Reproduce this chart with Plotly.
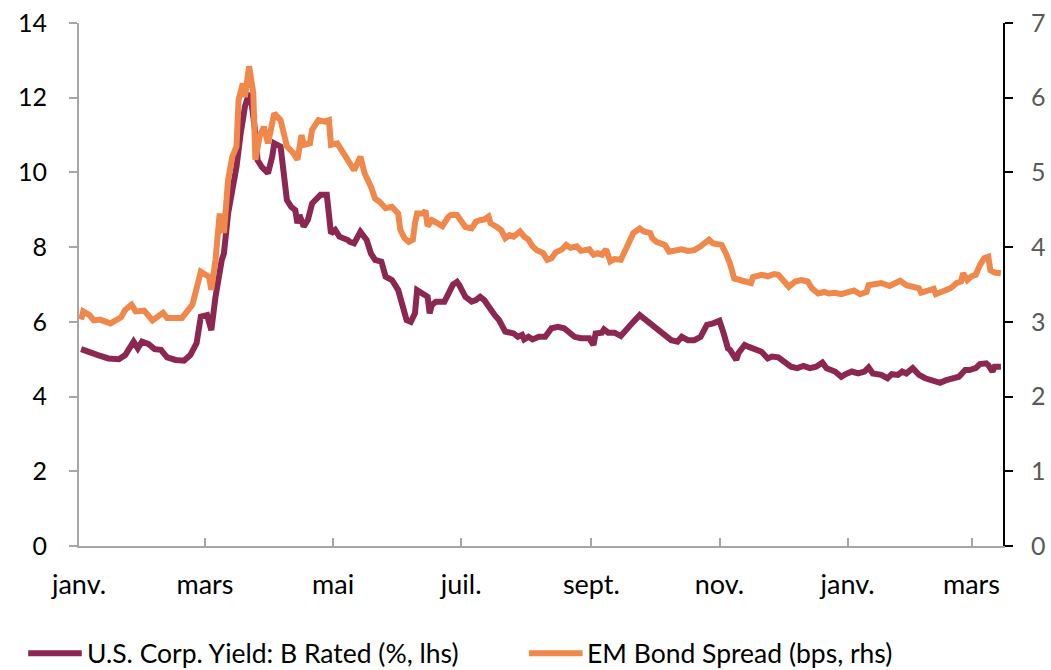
import plotly.graph_objects as go

# U.S. corporate B-rated yield (%, left axis)
us_dates = [
    "2020-01-02", "2020-01-05", "2020-01-10", "2020-01-15", "2020-01-20", "2020-01-23",
    "2020-01-27", "2020-01-29", "2020-01-31", "2020-02-03", "2020-02-06", "2020-02-09",
    "2020-02-12", "2020-02-16", "2020-02-20", "2020-02-23", "2020-02-26", "2020-02-28",
    "2020-03-02", "2020-03-04", "2020-03-06", "2020-03-09", "2020-03-10", "2020-03-12",
    "2020-03-14", "2020-03-16", "2020-03-18", "2020-03-20", "2020-03-22", "2020-03-23",
    "2020-03-25", "2020-03-26", "2020-03-28", "2020-03-31", "2020-04-02", "2020-04-03",
    "2020-04-06", "2020-04-07", "2020-04-09", "2020-04-11", "2020-04-13", "2020-04-14",
    "2020-04-15", "2020-04-17", "2020-04-19", "2020-04-21", "2020-04-23", "2020-04-25",
    "2020-04-28", "2020-04-30", "2020-05-02", "2020-05-04", "2020-05-08", "2020-05-09",
    "2020-05-11", "2020-05-14", "2020-05-17", "2020-05-19", "2020-05-21", "2020-05-24",
    "2020-05-26", "2020-05-29", "2020-06-01", "2020-06-03", "2020-06-05", "2020-06-07",
    "2020-06-09", "2020-06-10", "2020-06-13", "2020-06-15", "2020-06-16", "2020-06-17",
    "2020-06-19", "2020-06-23", "2020-06-25", "2020-06-27", "2020-06-29", "2020-06-30",
    "2020-07-03", "2020-07-06", "2020-07-08", "2020-07-10", "2020-07-12", "2020-07-15",
    "2020-07-17", "2020-07-19", "2020-07-21", "2020-07-22", "2020-07-26", "2020-07-28",
    "2020-07-30", "2020-07-31", "2020-08-02", "2020-08-04", "2020-08-07", "2020-08-10",
    "2020-08-13", "2020-08-16", "2020-08-19", "2020-08-20", "2020-08-24", "2020-08-27",
    "2020-08-31", "2020-09-02", "2020-09-03", "2020-09-06", "2020-09-07", "2020-09-09",
    "2020-09-12", "2020-09-15", "2020-09-18", "2020-09-21", "2020-09-24", "2020-09-26",
    "2020-09-29", "2020-10-02", "2020-10-06", "2020-10-09", "2020-10-12", "2020-10-14",
    "2020-10-17", "2020-10-20", "2020-10-23", "2020-10-26", "2020-10-29", "2020-11-01",
    "2020-11-03", "2020-11-05", "2020-11-06", "2020-11-09", "2020-11-10", "2020-11-13",
    "2020-11-15", "2020-11-18", "2020-11-21", "2020-11-24", "2020-11-26", "2020-11-29",
    "2020-12-02", "2020-12-05", "2020-12-08", "2020-12-11", "2020-12-14", "2020-12-17",
    "2020-12-20", "2020-12-22", "2020-12-26", "2020-12-29", "2020-12-31", "2021-01-03",
    "2021-01-06", "2021-01-09", "2021-01-11", "2021-01-13", "2021-01-17", "2021-01-20",
    "2021-01-22", "2021-01-25", "2021-01-27", "2021-01-29", "2021-02-01", "2021-02-04",
    "2021-02-07", "2021-02-10", "2021-02-14", "2021-02-17", "2021-02-21", "2021-02-23",
    "2021-02-26", "2021-02-28", "2021-03-03", "2021-03-05", "2021-03-08", "2021-03-09",
    "2021-03-11", "2021-03-12", "2021-03-15",
]
us_yield = [
    5.27, 5.20, 5.11, 5.02, 5.00, 5.11,
    5.47, 5.29, 5.47, 5.41, 5.27, 5.25,
    5.05, 4.98, 4.96, 5.11, 5.43, 6.14,
    6.18, 5.78, 6.67, 7.66, 7.83, 8.90,
    9.44, 10.15, 11.05, 11.76, 12.12, 11.94,
    11.05, 10.33, 10.15, 9.98, 10.42, 10.78,
    10.69, 10.24, 9.26, 9.08, 8.99, 8.64,
    8.86, 8.55, 8.73, 9.17, 9.26, 9.40,
    9.40, 8.37, 8.46, 8.28, 8.19, 8.14,
    8.10, 8.41, 8.19, 7.83, 7.66, 7.61,
    7.21, 7.12, 6.85, 6.41, 6.05, 6.00,
    6.23, 6.85, 6.72, 6.67, 6.23, 6.45,
    6.54, 6.54, 6.76, 6.99, 7.07, 6.99,
    6.67, 6.54, 6.58, 6.67, 6.58, 6.32,
    6.18, 6.05, 5.83, 5.74, 5.69, 5.60,
    5.65, 5.53, 5.60, 5.53, 5.60, 5.60,
    5.83, 5.87, 5.83, 5.78, 5.60, 5.56,
    5.56, 5.38, 5.69, 5.71, 5.80, 5.71,
    5.71, 5.62, 5.83, 6.00, 6.18, 6.09,
    5.96, 5.83, 5.65, 5.51, 5.47, 5.60,
    5.51, 5.51, 5.60, 5.92, 5.96, 6.03,
    5.69, 5.29, 5.25, 4.98, 5.16, 5.38,
    5.33, 5.25, 5.20, 5.02, 5.07, 5.05,
    4.93, 4.80, 4.76, 4.82, 4.76, 4.80,
    4.91, 4.76, 4.67, 4.53, 4.60, 4.67,
    4.62, 4.67, 4.78, 4.62, 4.58, 4.49,
    4.60, 4.58, 4.67, 4.62, 4.76, 4.58,
    4.49, 4.42, 4.37, 4.44, 4.49, 4.53,
    4.71, 4.71, 4.76, 4.87, 4.89, 4.84,
    4.67, 4.80, 4.80,
]

# EM bond spread (hundreds of bps, right axis)
em_dates = [
    "2020-01-02", "2020-01-03", "2020-01-06", "2020-01-08", "2020-01-11", "2020-01-16",
    "2020-01-21", "2020-01-23", "2020-01-26", "2020-01-28", "2020-02-01", "2020-02-05",
    "2020-02-10", "2020-02-12", "2020-02-19", "2020-02-21", "2020-02-24", "2020-02-26",
    "2020-02-28", "2020-03-03", "2020-03-04", "2020-03-06", "2020-03-08", "2020-03-10",
    "2020-03-12", "2020-03-14", "2020-03-16", "2020-03-17", "2020-03-19", "2020-03-20",
    "2020-03-22", "2020-03-24", "2020-03-25", "2020-03-27", "2020-03-29", "2020-03-31",
    "2020-04-02", "2020-04-03", "2020-04-06", "2020-04-07", "2020-04-09", "2020-04-12",
    "2020-04-14", "2020-04-16", "2020-04-17", "2020-04-20", "2020-04-21", "2020-04-24",
    "2020-04-27", "2020-04-29", "2020-04-30", "2020-05-03", "2020-05-06", "2020-05-09",
    "2020-05-11", "2020-05-14", "2020-05-16", "2020-05-19", "2020-05-21", "2020-05-23",
    "2020-05-26", "2020-05-29", "2020-06-01", "2020-06-02", "2020-06-04", "2020-06-06",
    "2020-06-08", "2020-06-09", "2020-06-10", "2020-06-13", "2020-06-14", "2020-06-15",
    "2020-06-17", "2020-06-19", "2020-06-22", "2020-06-25", "2020-06-26", "2020-06-29",
    "2020-07-01", "2020-07-03", "2020-07-06", "2020-07-08", "2020-07-10", "2020-07-12",
    "2020-07-14", "2020-07-15", "2020-07-18", "2020-07-20", "2020-07-22", "2020-07-24",
    "2020-07-26", "2020-07-29", "2020-07-31", "2020-08-02", "2020-08-04", "2020-08-06",
    "2020-08-09", "2020-08-11", "2020-08-13", "2020-08-15", "2020-08-18", "2020-08-20",
    "2020-08-22", "2020-08-25", "2020-08-27", "2020-08-31", "2020-09-02", "2020-09-04",
    "2020-09-06", "2020-09-08", "2020-09-10", "2020-09-12", "2020-09-15", "2020-09-18",
    "2020-09-21", "2020-09-24", "2020-09-26", "2020-09-29", "2020-09-30", "2020-10-02",
    "2020-10-06", "2020-10-08", "2020-10-11", "2020-10-14", "2020-10-17", "2020-10-20",
    "2020-10-23", "2020-10-27", "2020-10-29", "2020-10-31", "2020-11-02", "2020-11-04",
    "2020-11-06", "2020-11-08", "2020-11-10", "2020-11-14", "2020-11-16", "2020-11-17",
    "2020-11-21", "2020-11-24", "2020-11-27", "2020-11-29", "2020-12-02", "2020-12-04",
    "2020-12-07", "2020-12-10", "2020-12-13", "2020-12-15", "2020-12-18", "2020-12-21",
    "2020-12-23", "2020-12-26", "2020-12-29", "2021-01-02", "2021-01-04", "2021-01-07",
    "2021-01-10", "2021-01-11", "2021-01-14", "2021-01-17", "2021-01-21", "2021-01-23",
    "2021-01-26", "2021-01-29", "2021-02-01", "2021-02-04", "2021-02-05", "2021-02-08",
    "2021-02-11", "2021-02-12", "2021-02-15", "2021-02-17", "2021-02-19", "2021-02-22",
    "2021-02-24", "2021-02-25", "2021-02-27", "2021-03-01", "2021-03-03", "2021-03-05",
    "2021-03-07", "2021-03-09", "2021-03-10", "2021-03-12", "2021-03-15",
]
em_spread = [
    3.03, 3.14, 3.09, 3.02, 3.03, 2.98,
    3.06, 3.16, 3.23, 3.14, 3.15, 3.02,
    3.12, 3.05, 3.05, 3.12, 3.23, 3.45,
    3.67, 3.60, 3.43, 3.83, 4.45, 4.19,
    4.90, 5.21, 5.35, 5.97, 6.19, 6.01,
    6.42, 6.06, 5.17, 5.48, 5.61, 5.39,
    5.70, 5.79, 5.70, 5.57, 5.35, 5.26,
    5.17, 5.50, 5.37, 5.39, 5.57, 5.70,
    5.68, 5.70, 5.37, 5.39, 5.26, 5.12,
    5.03, 5.21, 4.99, 4.81, 4.65, 4.61,
    4.52, 4.54, 4.45, 4.23, 4.12, 4.07,
    4.10, 4.32, 4.45, 4.45, 4.49, 4.28,
    4.36, 4.33, 4.28, 4.41, 4.43, 4.43,
    4.34, 4.27, 4.25, 4.34, 4.36, 4.37,
    4.41, 4.32, 4.27, 4.23, 4.12, 4.16,
    4.14, 4.21, 4.14, 4.10, 4.01, 3.96,
    3.92, 3.83, 3.85, 3.93, 3.97, 4.03,
    3.99, 4.01, 3.95, 3.97, 3.90, 3.92,
    3.90, 3.97, 3.81, 3.84, 3.83, 4.01,
    4.19, 4.25, 4.21, 4.19, 4.12, 4.07,
    4.03, 3.94, 3.95, 3.97, 3.95, 3.96,
    4.01, 4.10, 4.05, 4.05, 4.03, 3.92,
    3.78, 3.58, 3.56, 3.54, 3.52, 3.60,
    3.63, 3.61, 3.64, 3.63, 3.52, 3.47,
    3.54, 3.56, 3.54, 3.45, 3.38, 3.40,
    3.38, 3.39, 3.37, 3.39, 3.42, 3.37,
    3.40, 3.49, 3.51, 3.52, 3.48, 3.51,
    3.55, 3.49, 3.48, 3.45, 3.39, 3.42,
    3.44, 3.37, 3.40, 3.44, 3.45, 3.52,
    3.54, 3.65, 3.56, 3.61, 3.63, 3.76,
    3.85, 3.87, 3.69, 3.66, 3.65,
]

# Axis ticks
x_tick_dates = ["2020-01-01", "2020-03-01", "2020-05-01", "2020-07-01",
                "2020-09-01", "2020-11-01", "2021-01-01", "2021-03-01"]
x_tick_labels = ["janv.", "mars", "mai", "juil.", "sept.", "nov.", "janv.", "mars"]

series_names = ["U.S. Corp. Yield: B Rated (%, lhs)", "EM Bond Spread (bps, rhs)"]
series_colors = ["#8B2750", "#EF884A"]

FONT = "Lato, 'Open Sans', sans-serif"
AXIS_GREY = "#A6A6A6"

fig = go.Figure()
fig.add_trace(go.Scatter(
    x=us_dates, y=us_yield, name=series_names[0], mode="lines",
    line=dict(color=series_colors[0], width=6), yaxis="y", showlegend=False,
))
fig.add_trace(go.Scatter(
    x=em_dates, y=em_spread, name=series_names[1], mode="lines",
    line=dict(color=series_colors[1], width=6), yaxis="y2", showlegend=False,
))

# Legend drawn below the plot as line samples plus labels
legend_y = -0.205
legend_items = [(-0.055, 0.003, 0.0065), (0.487, 0.545, 0.548)]
for (x0, x1, xt), name, color in zip(legend_items, series_names, series_colors):
    fig.add_shape(type="line", xref="paper", yref="paper", x0=x0, x1=x1,
                  y0=legend_y, y1=legend_y, line=dict(color=color, width=6))
    fig.add_annotation(xref="paper", yref="paper", x=xt, y=legend_y,
                       text=name, showarrow=False, xanchor="left", yanchor="middle",
                       font=dict(family=FONT, size=26.5, color="#000000"))

fig.update_layout(
    width=1051, height=670, autosize=False,
    margin=dict(l=79, r=48, t=23, b=124, pad=0),
    paper_bgcolor="white", plot_bgcolor="white",
    font=dict(family=FONT, size=25, color="#000000"),
    xaxis=dict(
        type="date", range=["2020-01-01", "2021-03-16"], automargin=False,
        tickmode="array", tickvals=x_tick_dates, ticktext=x_tick_labels,
        ticks="inside", ticklen=8, tickwidth=1.5, tickcolor=AXIS_GREY,
        showline=True, linecolor=AXIS_GREY, linewidth=2,
        showgrid=False, zeroline=False, ticklabelstandoff=14,
        tickfont=dict(family=FONT, size=27, color="#000000"),
    ),
    yaxis=dict(
        range=[0, 14], dtick=2, tick0=0, automargin=False,
        ticks="outside", ticklen=8, tickwidth=1.5, tickcolor=AXIS_GREY,
        showline=True, linecolor=AXIS_GREY, linewidth=2,
        showgrid=False, zeroline=False, ticklabelstandoff=17,
        tickfont=dict(family=FONT, size=25, color="#000000"),
    ),
    yaxis2=dict(
        range=[0, 7], dtick=1, tick0=0, overlaying="y", side="right", automargin=False,
        ticks="outside", ticklen=8, tickwidth=1.5, tickcolor="#000000",
        showline=True, linecolor="#000000", linewidth=2,
        showgrid=False, zeroline=False, ticklabelstandoff=13,
        tickfont=dict(family=FONT, size=25, color="#595959"),
    ),
)

fig.write_html("out.html")
